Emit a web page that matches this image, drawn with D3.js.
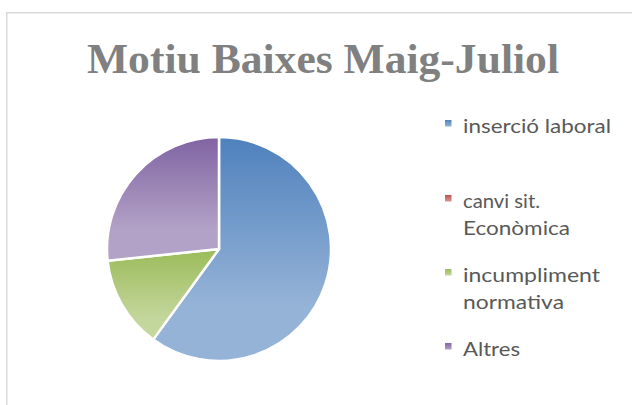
<!DOCTYPE html>
<html><head><meta charset="utf-8">
<script src="https://cdn.jsdelivr.net/npm/d3@7"></script>
<style>html,body{margin:0;padding:0;background:#fff;}svg{display:block;}</style>
</head><body>
<svg id="c" width="632" height="405"></svg>
<script>
const categories = ["inserció laboral", "canvi sit.\nEconòmica", "incumpliment\nnormativa", "Altres"];
const values = [9, 0, 2, 4];
const topColors = ["#4F81BD", "#C0504D", "#9BBB59", "#8064A2"];
const bottomColors = ["#95B3D7", "#D99694", "#C3D69B", "#B3A2C7"];
const title = "Motiu Baixes Maig-Juliol";

const svg = d3.select("#c");
// chart border
svg.append("rect").attr("x", 6.75).attr("y", 12.75).attr("width", 640).attr("height", 420)
  .attr("fill", "#fff").attr("stroke", "#D9D9D9").attr("stroke-width", 1.5);

// title
svg.append("text").attr("x", 323).attr("y", 73).attr("text-anchor", "middle")
  .attr("font-family", "Liberation Serif, DejaVu Serif, serif").attr("font-weight", "bold")
  .attr("font-size", 42).attr("fill", "#808080")
  .attr("textLength", 472).attr("lengthAdjust", "spacingAndGlyphs")
  .text(title);

const defs = svg.append("defs");
categories.forEach((c, i) => {
  const g = defs.append("linearGradient").attr("id", "g" + i)
    .attr("x1", 0).attr("y1", 0).attr("x2", 0).attr("y2", 1);
  g.append("stop").attr("offset", "0%").attr("stop-color", topColors[i]);
  g.append("stop").attr("offset", "75%").attr("stop-color", bottomColors[i]);
  g.append("stop").attr("offset", "100%").attr("stop-color", bottomColors[i]);
});

const cx = 219, cy = 249, r = 112;
const pie = d3.pie().sort(null).value(d => d)(values);
const arc = d3.arc().innerRadius(0).outerRadius(r);
svg.append("g").attr("transform", `translate(${cx},${cy})`)
  .selectAll("path").data(pie.filter(d => d.value > 0)).enter().append("path")
  .attr("d", arc)
  .attr("fill", d => `url(#g${d.index})`)
  .attr("stroke", "#fff").attr("stroke-width", 2.5).attr("stroke-linejoin", "round");

// legend
const legendY = [126, 201, 275, 349];
const lg = svg.append("g");
categories.forEach((c, i) => {
  const g = lg.append("g");
  const grad = defs.append("linearGradient").attr("id", "lg" + i)
    .attr("x1", 0).attr("y1", 0).attr("x2", 0).attr("y2", 1);
  grad.append("stop").attr("offset", "0%").attr("stop-color", topColors[i]);
  grad.append("stop").attr("offset", "100%").attr("stop-color", bottomColors[i]);
  g.append("rect").attr("x", 445).attr("y", legendY[i] - 6).attr("width", 6.5).attr("height", 6.5)
    .attr("fill", `url(#lg${i})`);
  const lines = c.split("\n");
  const widths = {"inserció laboral":148, "canvi sit.":77, "Econòmica":107, "incumpliment":137, "normativa":101, "Altres":57};
  lines.forEach((ln, j) => {
    g.append("text").attr("x", 463).attr("y", legendY[i] + 7 + j * 27)
      .attr("font-family", "Lato, Open Sans, Liberation Sans, sans-serif").attr("font-size", 19)
      .attr("fill", "#595959")
      .attr("textLength", widths[ln]).attr("lengthAdjust", "spacingAndGlyphs")
      .text(ln);
  });
});
</script>
</body></html>
